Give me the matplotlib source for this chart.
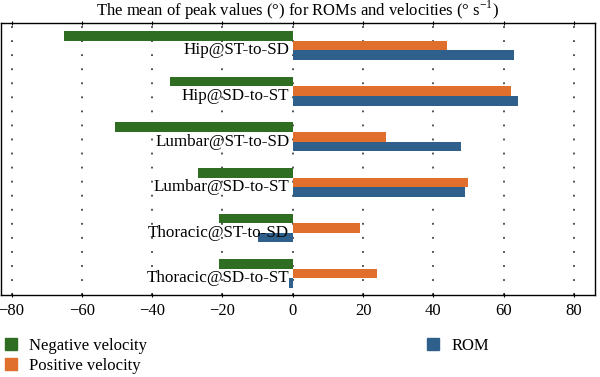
import matplotlib
matplotlib.use("Agg")
import matplotlib.pyplot as plt
import numpy as np
from matplotlib.patches import Patch

categories = ["Hip@ST-to-SD", "Hip@SD-to-ST", "Lumbar@ST-to-SD",
              "Lumbar@SD-to-ST", "Thoracic@ST-to-SD", "Thoracic@SD-to-ST"]
negative_velocity = [-65, -35, -50.5, -27, -21, -21]
positive_velocity = [44, 62, 26.5, 50, 19, 24]
rom = [63, 64, 48, 49, -10, -1]
xticks = [-80, -60, -40, -20, 0, 20, 40, 60, 80]

c_green = "#2f6e22"
c_orange = "#e06e2c"
c_blue = "#2f5f8b"

plt.rcParams['font.family'] = ['Liberation Serif', 'DejaVu Serif']
plt.rcParams['mathtext.fontset'] = 'custom'
plt.rcParams['mathtext.rm'] = 'Liberation Serif'

fig = plt.figure(figsize=(6.0, 3.77), dpi=100)
ax = fig.add_axes([1/600, 82/377, 594/600, 272/377])

y = np.arange(len(categories))
h = 0.21
ax.barh(y - h, negative_velocity, height=h, color=c_green, label="Negative velocity", zorder=3)
ax.barh(y, positive_velocity, height=h, color=c_orange, label="Positive velocity", zorder=3)
ax.barh(y + h, rom, height=h, color=c_blue, label="ROM", zorder=3)

for yi, name in zip(y, categories):
    ax.text(-1.0, yi + h/2, name, ha="right", va="center", fontsize=12.3, zorder=4)

ax.set_xlim(-83, 86)
ax.set_ylim(5.47, -0.495)
ax.set_xticks(xticks)
ax.set_xticklabels([("\u2212" + str(-t)) if t < 0 else str(t) for t in xticks], fontsize=12)
ax.set_yticks([])
ax.tick_params(axis='x', direction='inout', length=3, width=0.8, top=True, pad=4)
for xt in xticks:
    ax.axvline(xt, color="#222222", linestyle=(0, (1.2, 8)), linewidth=1.1, zorder=1)
for s in ax.spines.values():
    s.set_linewidth(1.0)

ax.set_title("The mean of peak values (°) for ROMs and velocities (° s$^{-1}$)",
             fontsize=12, pad=5)

handles = [Patch(color=c_green), Patch(color=c_orange), Patch(color=c_blue)]
labels = ["Negative velocity", "Positive velocity", "ROM"]
fig.legend(handles, labels, loc="upper left", bbox_to_anchor=(-0.003, 1 - 331/377),
           ncol=2, frameon=False, fontsize=12, handlelength=0.7, handleheight=0.7,
           handletextpad=0.75, columnspacing=16.8, labelspacing=0.25, borderaxespad=0)

fig.savefig("out.png", dpi=100)
